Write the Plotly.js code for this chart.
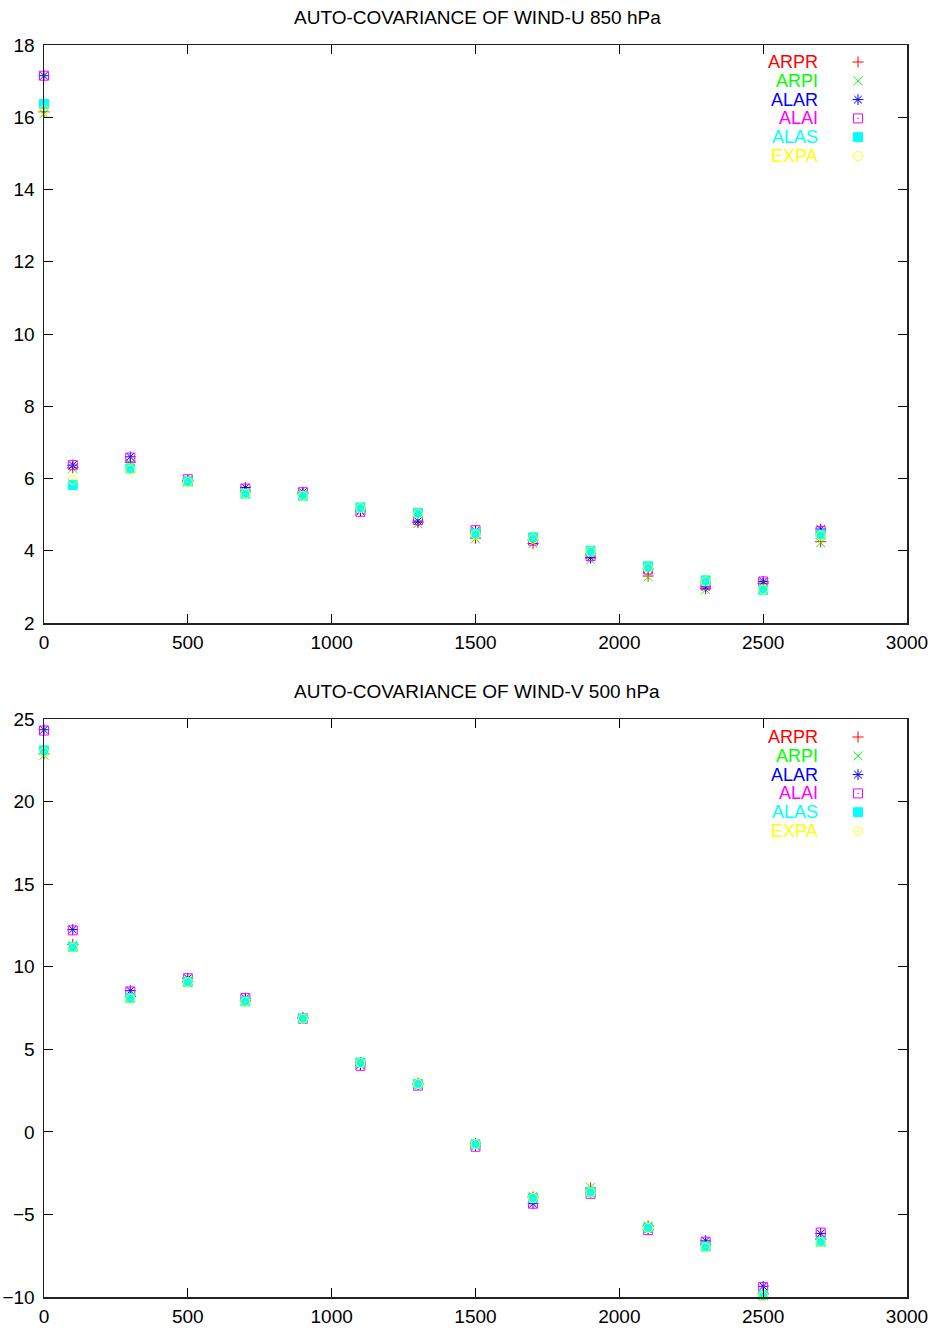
<!DOCTYPE html>
<html><head><meta charset="utf-8">
<script src="https://cdn.plot.ly/plotly-3.0.1.min.js"></script>
<style>html,body{margin:0;padding:0;background:#fff}#c{width:934px;height:1331px}</style>
</head><body><div id="c"></div>
<script>
const lags = [0,100,300,500,700,900,1100,1300,1500,1700,1900,2100,2300,2500,2700];
const seriesNames = ['ARPR','ARPI','ALAR','ALAI','ALAS','EXPA'];

// WIND-U 850 hPa
const u_ARPR = [16.15,6.30,6.45,5.92,5.65,5.58,5.12,4.78,4.35,4.20,3.80,3.30,2.95,3.10,4.25];
const u_ARPI = [16.10,6.28,6.42,5.90,5.65,5.56,5.10,4.75,4.33,4.20,3.75,3.28,2.92,3.10,4.22];
const u_ALAR = [17.15,6.37,6.60,5.95,5.75,5.62,5.10,4.82,4.55,4.30,3.82,3.50,3.00,3.15,4.60];
const u_ALAI = [17.15,6.37,6.58,5.98,5.72,5.62,5.08,4.85,4.57,4.28,3.85,3.48,3.05,3.15,4.55];
const u_ALAS = [16.37,5.82,6.28,5.92,5.58,5.52,5.20,5.05,4.48,4.37,4.00,3.57,3.18,2.92,4.45];
const u_EXPA = [16.20,5.96,6.25,5.90,5.58,5.52,5.18,5.02,4.45,4.33,3.97,3.53,3.15,2.93,4.42];

// WIND-V 500 hPa
const v_ARPR = [22.90,11.35,8.20,9.10,7.95,6.90,4.20,2.95,-0.70,-3.95,-3.40,-5.70,-6.80,-9.80,-6.50];
const v_ARPI = [22.80,11.30,8.15,9.05,7.90,6.90,4.20,2.90,-0.70,-3.90,-3.35,-5.70,-6.85,-9.85,-6.55];
const v_ALAR = [24.35,12.25,8.55,9.30,8.10,6.90,4.05,2.85,-0.85,-4.35,-3.70,-5.90,-6.60,-9.35,-6.15];
const v_ALAI = [24.30,12.20,8.50,9.30,8.10,6.85,4.00,2.80,-0.90,-4.35,-3.75,-5.95,-6.65,-9.40,-6.10];
const v_ALAS = [23.10,11.20,8.10,9.08,7.90,6.87,4.20,2.90,-0.75,-4.00,-3.65,-5.80,-6.95,-9.90,-6.65];
const v_EXPA = [23.00,11.15,8.05,9.05,7.88,6.85,4.17,2.90,-0.75,-4.00,-3.68,-5.82,-7.00,-9.95,-6.68];

const uTicks = [2,4,6,8,10,12,14,16,18];
const vTicks = [-10,-5,0,5,10,15,20,25];
const xTicks = [0,500,1000,1500,2000,2500,3000];
const titles = ['AUTO-COVARIANCE OF WIND-U 850 hPa','AUTO-COVARIANCE OF WIND-V 500 hPa'];

const colors = {ARPR:'#ff0000',ARPI:'#00ff00',ALAR:'#0000ff',ALAI:'#ff00ff',ALAS:'#00ffff',EXPA:'#ffff00'};
const symbols = {ARPR:'cross-thin-open',ARPI:'x-thin-open',ALAR:'asterisk-open',ALAI:'square-open-dot',ALAS:'square',EXPA:'circle-open-dot'};
const sizes = {ARPR:8,ARPI:9,ALAR:9,ALAI:9,ALAS:9,EXPA:9};

const uData = {ARPR:u_ARPR,ARPI:u_ARPI,ALAR:u_ALAR,ALAI:u_ALAI,ALAS:u_ALAS,EXPA:u_EXPA};
const vData = {ARPR:v_ARPR,ARPI:v_ARPI,ALAR:v_ALAR,ALAI:v_ALAI,ALAS:v_ALAS,EXPA:v_EXPA};

function mk(name){
  return {color:colors[name],symbol:symbols[name],size:sizes[name],line:{color:colors[name],width:1}};
}
const traces = [];
seriesNames.forEach(n=>traces.push({x:lags,y:uData[n],type:'scatter',mode:'markers',name:n,marker:mk(n),xaxis:'x',yaxis:'y',cliponaxis:false,showlegend:false}));
seriesNames.forEach(n=>traces.push({x:lags,y:vData[n],type:'scatter',mode:'markers',name:n,marker:mk(n),xaxis:'x2',yaxis:'y2',cliponaxis:false,showlegend:false}));

// legend (pixel overlay axes)
const W=934,H=1331;
const legTops=[62,737], legStep=18.8, legTextX=820, legMarkX=858;
const annotations=[];
legTops.forEach(t=>{
  seriesNames.forEach((n,i)=>{
    const yy=t+i*legStep;
    traces.push({x:[legMarkX],y:[yy],type:'scatter',mode:'markers',marker:mk(n),xaxis:'x3',yaxis:'y3',showlegend:false,hoverinfo:'skip',cliponaxis:false});
    annotations.push({xref:'x3',yref:'y3',x:legTextX,y:yy,xanchor:'right',yanchor:'middle',text:n,showarrow:false,font:{family:'Liberation Sans, Arial, sans-serif',size:18,color:colors[n]}});
  });
});
annotations.push({xref:'x3',yref:'y3',x:477,y:17,xanchor:'center',yanchor:'middle',text:titles[0],showarrow:false,font:{family:'Liberation Sans, Arial, sans-serif',size:19,color:'#000'}});
annotations.push({xref:'x3',yref:'y3',x:477,y:691,xanchor:'center',yanchor:'middle',text:titles[1],showarrow:false,font:{family:'Liberation Sans, Arial, sans-serif',size:19,color:'#000'}});

const font={family:'Liberation Sans, Arial, sans-serif',size:19,color:'#000'};
const xd=[44/W,907/W];
function ax(extra){
  return Object.assign({showgrid:false,zeroline:false,showline:true,mirror:'allticks',linecolor:'#222',linewidth:1.5,
    ticks:'inside',ticklen:9,tickwidth:1,tickcolor:'#000',tickfont:font,fixedrange:true},extra);
}
const layout={
  width:W,height:H,margin:{l:0,r:0,t:0,b:0},paper_bgcolor:'#fff',plot_bgcolor:'rgba(0,0,0,0)',
  font:font,showlegend:false,
  xaxis:ax({domain:xd,range:[0,3000],tickvals:xTicks,anchor:'y',ticklabelstandoff:2}),
  yaxis:ax({domain:[1-623/H,1-45/H],range:[2,18],tickvals:uTicks,anchor:'x',ticklabelstandoff:4}),
  xaxis2:ax({domain:xd,range:[0,3000],tickvals:xTicks,anchor:'y2',ticklabelstandoff:2}),
  yaxis2:ax({domain:[1-1297/H,1-719/H],range:[-10,25],tickvals:vTicks,anchor:'x2',ticklabelstandoff:4}),
  xaxis3:{domain:[0,1],range:[0,W],visible:false,fixedrange:true,anchor:'y3'},
  yaxis3:{domain:[0,1],range:[H,0],visible:false,fixedrange:true,anchor:'x3'},
  annotations:annotations
};
Plotly.newPlot('c',traces,layout,{staticPlot:true,displayModeBar:false});
</script></body></html>
